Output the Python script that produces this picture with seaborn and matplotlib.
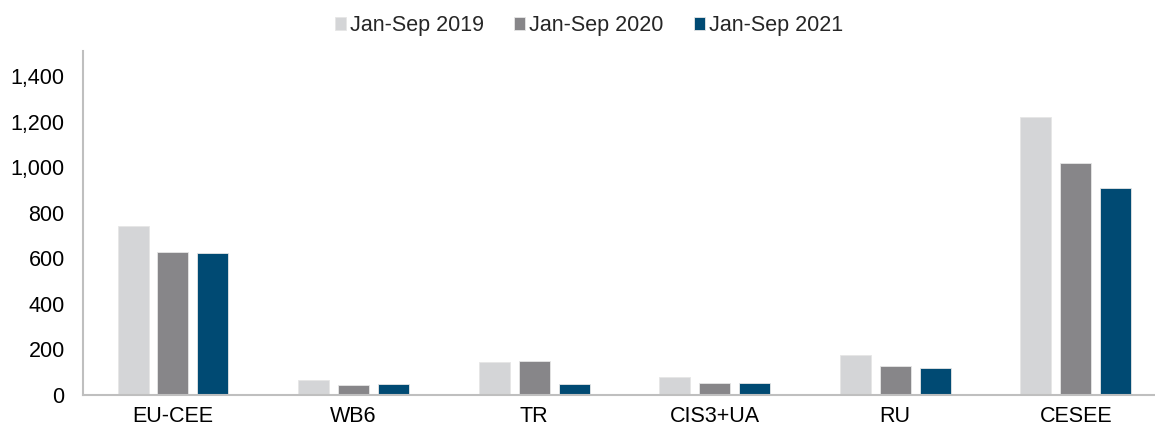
import pandas as pd
import matplotlib.pyplot as plt
import seaborn as sns
from matplotlib.ticker import FuncFormatter

# datos
regiones = ['EU-CEE', 'WB6', 'TR', 'CIS3+UA', 'RU', 'CESEE']
periodos = ['Jan-Sep 2019', 'Jan-Sep 2020', 'Jan-Sep 2021']
valores_2019 = [742, 67, 143, 80, 174, 1221]
valores_2020 = [628, 45, 148, 54, 127, 1018]
valores_2021 = [624, 49, 49, 54, 117, 907]
colores = ['#D4D5D7', '#878689', '#004A73']

df = pd.DataFrame({
    'Region': regiones * 3,
    'Periodo': [periodos[0]] * 6 + [periodos[1]] * 6 + [periodos[2]] * 6,
    'Valor': valores_2019 + valores_2020 + valores_2021,
})

sns.set_style('white')
plt.rcParams['font.family'] = ['Liberation Sans', 'DejaVu Sans']

fig = plt.figure(figsize=(11.55, 4.29), dpi=100)
ax = fig.add_axes([0.0716, 0.0793, 0.938, 0.802])

sns.barplot(data=df, x='Region', y='Valor', hue='Periodo', palette=colores,
            width=0.664, gap=0.225, ax=ax, saturation=1,
            edgecolor='#E6E6E6', linewidth=0.6)

ax.set_ylim(0, 1510)
ax.set_yticks(range(0, 1401, 200))
ax.yaxis.set_major_formatter(FuncFormatter(lambda v, p: f'{int(v):,}'))
ax.set_xlabel('')
ax.set_ylabel('')
ax.tick_params(axis='both', length=0, labelsize=15.5, colors='black')
ax.tick_params(axis='y', pad=13)
ax.tick_params(axis='x', pad=8)

for lado in ['top', 'right']:
    ax.spines[lado].set_visible(False)
for lado in ['left', 'bottom']:
    ax.spines[lado].set_color('#BFBFBF')
    ax.spines[lado].set_linewidth(1.5)

handles, labels = ax.get_legend_handles_labels()
ax.get_legend().remove()
fig.legend(handles, labels, loc='upper center', bbox_to_anchor=(0.51, 1.01),
           ncol=3, frameon=False, fontsize=15.5, handlelength=0.5,
           handleheight=0.55, handletextpad=0.2, columnspacing=1.4)

fig.savefig('out.png', dpi=100)
